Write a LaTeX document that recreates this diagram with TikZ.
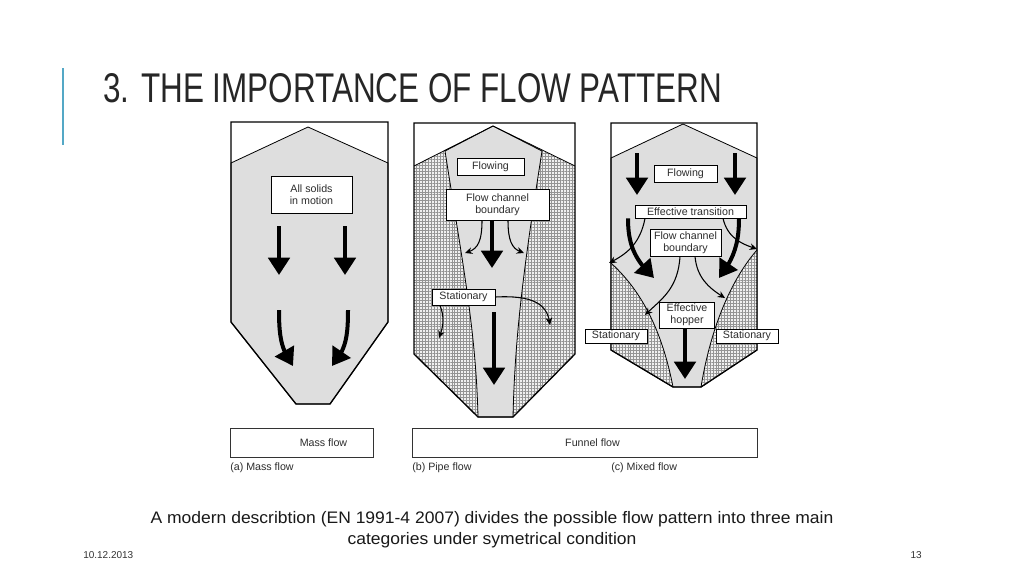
\documentclass[tikz,border=0pt]{standalone}
\usepackage{fontspec}
\setmainfont{Liberation Sans}
\newfontfamily\notefont[FakeStretch=1.05]{Liberation Sans}
\usetikzlibrary{arrows.meta,bending,patterns.meta}
\definecolor{slidebar}{RGB}{84,168,198}
\definecolor{ink}{RGB}{45,45,45}
\begin{document}
\begin{tikzpicture}[
  x=0.75pt, y=-0.75pt,
  wall/.style={draw=black, line width=1pt},
  moving/.style={fill=black!13, draw=black, line width=0.6pt},
  still/.style={fill=black!6, postaction={pattern={Hatch[distance=2.2pt,line width=0.3pt]}, pattern color=black!42}},
  labelbox/.style={draw=black, fill=white, line width=0.5pt, inner sep=0.5pt, align=center, font=\fontsize{8}{9}\selectfont, text=ink},
  bigarrow/.style={line width=3pt, -{Triangle[width=16pt,length=13pt]}},
  smallarrow/.style={line width=0.8pt, -{Stealth[width=5pt,length=5.5pt]}},
  caption/.style={anchor=west, inner sep=0pt, font=\fontsize{8}{9}\selectfont, text=ink}
]
\fill[white] (0,0) rectangle (1024,576);
\useasboundingbox (0,0) rectangle (1024,576);

\draw[slidebar, line width=1.5pt] (63,68) -- (63,145);
\node[anchor=north west, inner sep=0pt, text=black!85] (title) at (103,73)
  {\resizebox{464pt}{21.75pt}{3. THE IMPORTANCE OF FLOW PATTERN}};

\filldraw[moving] (231,163) -- (308,127) -- (388,163) -- (388,322) -- (330,404) -- (296,404) -- (231,322) -- cycle;
\draw[wall] (231,122) -- (388,122) -- (388,322) -- (330,404) -- (296,404) -- (231,322) -- cycle;
\node[labelbox, minimum width=60.75pt, minimum height=27.75pt] (solids) at (311.5,194.5) {All solids\\in motion};
\draw[bigarrow] (279,226) -- (279,275);
\draw[bigarrow] (345,226) -- (345,275);
\draw[bigarrow] (279,310) .. controls (279,340) and (282,350) .. (293,366);
\draw[bigarrow] (348,310) .. controls (348,340) and (345,350) .. (332,366);

\fill[still] (414,166) -- (493,126) -- (575,166) -- (575,354) -- (513,417) -- (478,417) -- (414,354) -- cycle;
\filldraw[moving] (445,151) -- (493,126) -- (542,151) .. controls (525,260) and (515,330) .. (513,417)
  -- (478,417) .. controls (476,330) and (462,260) .. (445,151) -- cycle;
\draw[line width=0.6pt] (414,166) -- (493,126) -- (575,166);
\draw[wall] (414,123) -- (575,123) -- (575,354) -- (513,417) -- (478,417) -- (414,354) -- cycle;
\node[labelbox, minimum width=50.25pt, minimum height=12.75pt] (flowb) at (490.5,166.5) {Flowing};
\node[labelbox, minimum width=77.25pt, minimum height=23.25pt] (chanb) at (497.5,204.5) {Flow channel\\boundary};
\node[labelbox, minimum width=47.25pt, minimum height=12pt] (statb) at (463.5,297) {Stationary};
\draw[bigarrow] (chanb.south -| 492,0) -- (492,268);
\draw[bigarrow] (494,312) -- (494,385);
\draw[smallarrow] (chanb.south -| 482,0) .. controls (482,245) and (476,250) .. (465,253);
\draw[smallarrow] (chanb.south -| 508,0) .. controls (508,245) and (514,250) .. (524,253);
\draw[smallarrow] (statb.south -| 440,0) .. controls (445,318) and (443,328) .. (439,338);
\draw[smallarrow] (statb.east) .. controls (535,295) and (548,305) .. (550,325);

\filldraw[moving] (611,158) -- (683,124) -- (757,158) -- (757,350) -- (701,387) -- (673,387) -- (611,350) -- cycle;
\fill[still] (611,263) .. controls (635,285) and (660,320) .. (673,387) -- (611,350) -- cycle;
\fill[still] (757,250) .. controls (735,275) and (712,320) .. (701,387) -- (757,350) -- cycle;
\draw[line width=0.6pt] (611,263) .. controls (635,285) and (660,320) .. (673,387);
\draw[line width=0.6pt] (757,250) .. controls (735,275) and (712,320) .. (701,387);
\draw[wall] (611,123) -- (757,123) -- (757,350) -- (701,387) -- (673,387) -- (611,350) -- cycle;
\node[labelbox, minimum width=47.25pt, minimum height=12.75pt] (flowc) at (685.5,173.5) {Flowing};
\node[labelbox, minimum width=83.25pt, minimum height=9.75pt] (trans) at (690.5,211.5) {Effective transition};
\node[labelbox, minimum width=53.25pt, minimum height=20.25pt] (chanc) at (685.5,242.5) {Flow channel\\boundary};
\node[labelbox, minimum width=41.25pt, minimum height=19.5pt] (hopper) at (687,315) {Effective\\hopper};
\node[labelbox, minimum width=46.5pt, minimum height=10.5pt] (statl) at (616,336) {Stationary};
\node[labelbox, minimum width=46.5pt, minimum height=10.5pt] (statr) at (747,336) {Stationary};
\draw[bigarrow] (637,153) -- (637,195);
\draw[bigarrow] (735,153) -- (735,195);
\draw[bigarrow] (trans.south -| 628,0) .. controls (628,245) and (635,260) .. (654,278);
\draw[bigarrow] (trans.south -| 739,0) .. controls (739,245) and (733,260) .. (719,278);
\draw[smallarrow] (trans.south -| 645,0) .. controls (640,245) and (625,255) .. (609,263);
\draw[smallarrow] (trans.south -| 723,0) .. controls (728,240) and (745,245) .. (757,249);
\draw[smallarrow] (chanc.south -| 680,0) .. controls (678,290) and (660,300) .. (645,315);
\draw[smallarrow] (chanc.south -| 695,0) .. controls (697,280) and (712,290) .. (725,298);
\draw[bigarrow] (hopper.south -| 685,0) -- (685,379);

\node[labelbox, draw=black!80, minimum width=107.25pt, minimum height=21.75pt] (mass) at (301.5,442.5) {\hspace*{33pt}Mass flow};
\node[labelbox, draw=black!80, minimum width=258.75pt, minimum height=21.75pt] (funnel) at (584.5,442.5) {\hspace*{12pt}Funnel flow};
\node[caption] (capa) at (230,468) {(a) Mass flow};
\node[caption] (capb) at (412,468) {(b) Pipe flow};
\node[caption] (capc) at (611,468) {(c) Mixed flow};

\node[align=center, inner sep=0pt, text=black!90, font=\notefont\fontsize{12.5}{15.5}\selectfont] (note) at (492,530)
  {A modern describtion (EN 1991-4 2007) divides the possible flow pattern into three main\\categories under symetrical condition};
\node[anchor=west, inner sep=0pt, font=\fontsize{7.5}{8}\selectfont, text=black!80] (date) at (83,555) {10.12.2013};
\node[anchor=east, inner sep=0pt, font=\fontsize{7.5}{8}\selectfont, text=black!80] (page) at (922,555) {13};
\end{tikzpicture}
\end{document}
